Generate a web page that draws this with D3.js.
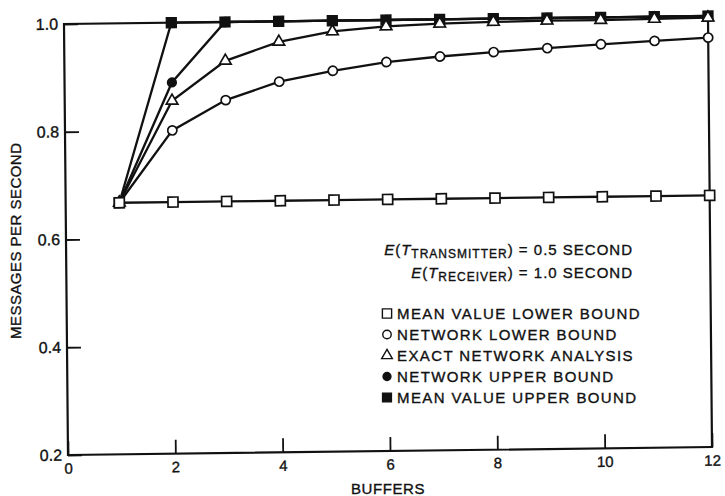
<!DOCTYPE html>
<html>
<head>
<meta charset="utf-8">
<script src="https://cdn.jsdelivr.net/npm/d3@7"></script>
<style>
  body { margin: 0; background: #fff; }
  svg { display: block; font-family: "Liberation Sans", Arial, sans-serif; }
  svg text { stroke: #111; stroke-width: 0.35px; }
</style>
</head>
<body>
<svg id="chart" width="725" height="496"></svg>
<script>
// values
const BUFFERS = [1, 2, 3, 4, 5, 6, 7, 8, 9, 10, 11, 12];
const MEAN_VALUE_LOWER = [0.667, 0.667, 0.667, 0.667, 0.667, 0.667, 0.667, 0.667, 0.667, 0.667, 0.667, 0.667];
const NETWORK_LOWER = [0.667, 0.800, 0.855, 0.888, 0.907, 0.922, 0.931, 0.938, 0.944, 0.950, 0.955, 0.960];
const EXACT_NETWORK = [0.667, 0.855, 0.928, 0.962, 0.980, 0.988, 0.992, 0.994, 0.995, 0.995, 0.996, 0.997];
const NETWORK_UPPER = [0.667, 0.889, 1.0, 1.0, 1.0, 1.0, 1.0, 1.0, 1.0, 1.0, 1.0, 1.0];
const MEAN_VALUE_UPPER = [0.667, 1.0, 1.0, 1.0, 1.0, 1.0, 1.0, 1.0, 1.0, 1.0, 1.0, 1.0];

const X_TICKS = [0, 2, 4, 6, 8, 10, 12];
const Y_TICKS = [0.2, 0.4, 0.6, 0.8, 1.0];

const LEGEND_LABELS = [
  "MEAN VALUE LOWER BOUND",
  "NETWORK LOWER BOUND",
  "EXACT NETWORK ANALYSIS",
  "NETWORK UPPER BOUND",
  "MEAN VALUE UPPER BOUND"
];
const LEGEND_SYMBOLS = ["openSquare", "openCircle", "openTriangle", "dot", "filledSquare"];

const INK = "#111";
const W = 644, H = 431;

const svg = d3.select("#chart");
const x = d3.scaleLinear().domain([0, 12]).range([0, W]);
const y = d3.scaleLinear().domain([0.2, 1.0]).range([0, -H]);

// the scan is tilted a little, so the plot sits in a slightly skewed frame
const plot = svg.append("g").attr("transform", "matrix(1,-0.0124,0.0093,1,68,455)");

const SYMBOLS = {
  openSquare:   { type: d3.symbolSquare,   size: 100, fill: "#fff" },
  openCircle:   { type: d3.symbolCircle,   size: 66,  fill: "#fff" },
  openTriangle: { type: d3.symbolTriangle, size: 58,  fill: "#fff" },
  dot:          { type: d3.symbolCircle,   size: 58,  fill: INK },
  filledSquare: { type: d3.symbolSquare,   size: 92,  fill: INK }
};

const series = [
  { key: "openSquare", values: MEAN_VALUE_LOWER },
  { key: "openCircle", values: NETWORK_LOWER },
  { key: "openTriangle", values: EXACT_NETWORK },
  { key: "dot", values: NETWORK_UPPER },
  { key: "filledSquare", values: MEAN_VALUE_UPPER }
];

// frame
plot.append("rect")
    .attr("x", x(0)).attr("y", y(1.0))
    .attr("width", x(12) - x(0)).attr("height", y(0.2) - y(1.0))
    .attr("fill", "none").attr("stroke", INK).attr("stroke-width", 2.2);

const xAxis = plot.append("g")
    .call(d3.axisBottom(x).tickValues(X_TICKS).tickSize(-14).tickPadding(8).tickFormat(d3.format("d")));
const yAxis = plot.append("g")
    .call(d3.axisLeft(y).tickValues(Y_TICKS).tickSize(-14).tickPadding(6).tickFormat(d3.format(".1f")));

[xAxis, yAxis].forEach(g => {
  g.attr("font-family", null).attr("font-size", null);
  g.select(".domain").remove();
  g.selectAll(".tick line").attr("stroke", INK).attr("stroke-width", 1.8);
  g.selectAll(".tick text").attr("fill", INK);
});
xAxis.selectAll(".tick text").attr("font-size", 15);
yAxis.selectAll(".tick text").attr("font-size", 16);

const line = d3.line().x(d => x(d[0])).y(d => y(d[1]));

plot.selectAll(".series")
    .data(series)
    .join("path")
    .attr("class", "series")
    .attr("d", s => line(BUFFERS.map((b, i) => [b, s.values[i]])))
    .attr("fill", "none")
    .attr("stroke", INK)
    .attr("stroke-width", 2.3);

// markers: filled ones first, open ones on top
[...series].reverse().forEach(s => {
  const sym = SYMBOLS[s.key];
  plot.append("g").selectAll("path")
      .data(BUFFERS.map((b, i) => [b, s.values[i]]))
      .join("path")
      .attr("transform", d => `translate(${x(d[0])},${y(d[1])})`)
      .attr("d", d3.symbol(sym.type, sym.size))
      .attr("fill", sym.fill)
      .attr("stroke", INK)
      .attr("stroke-width", 1.7);
});

// axis titles
svg.append("text")
    .attr("transform", "translate(21,241) rotate(-90)")
    .attr("text-anchor", "middle")
    .attr("font-size", 15)
    .attr("textLength", 196)
    .attr("lengthAdjust", "spacing")
    .attr("fill", INK)
    .text("MESSAGES PER SECOND");

svg.append("text")
    .attr("x", 388).attr("y", 494)
    .attr("text-anchor", "middle")
    .attr("font-size", 15)
    .attr("letter-spacing", 0.6)
    .attr("fill", INK)
    .text("BUFFERS");

// parameter notes
const NOTES = [
  { sub: "TRANSMITTER", rest: " = 0.5 SECOND", y: 255 },
  { sub: "RECEIVER", rest: " = 1.0 SECOND", y: 278 }
];
NOTES.forEach(n => {
  const t = svg.append("text")
      .attr("x", 633).attr("y", n.y)
      .attr("text-anchor", "end")
      .attr("font-size", 15)
      .attr("letter-spacing", 1)
      .attr("fill", INK);
  t.append("tspan").attr("font-style", "italic").text("E");
  t.append("tspan").text("(");
  t.append("tspan").attr("font-style", "italic").text("T");
  t.append("tspan").attr("font-size", 12).attr("dy", 3).text(n.sub);
  t.append("tspan").attr("dy", -3).text(")");
  t.append("tspan").text(n.rest);
});

// legend
const rowY = d3.scaleLinear().domain([0, LEGEND_LABELS.length - 1]).range([319, 403]);
const legend = svg.append("g");
LEGEND_LABELS.forEach((label, i) => {
  const sym = SYMBOLS[LEGEND_SYMBOLS[i]];
  legend.append("path")
      .attr("transform", `translate(387,${rowY(i) - 5.5})`)
      .attr("d", d3.symbol(sym.type, sym.size * 0.85))
      .attr("fill", sym.fill)
      .attr("stroke", INK)
      .attr("stroke-width", 1.4);
  legend.append("text")
      .attr("x", 397).attr("y", rowY(i))
      .attr("font-size", 15)
      .attr("letter-spacing", 1.4)
      .attr("fill", INK)
      .text(label);
});
</script>
</body>
</html>
